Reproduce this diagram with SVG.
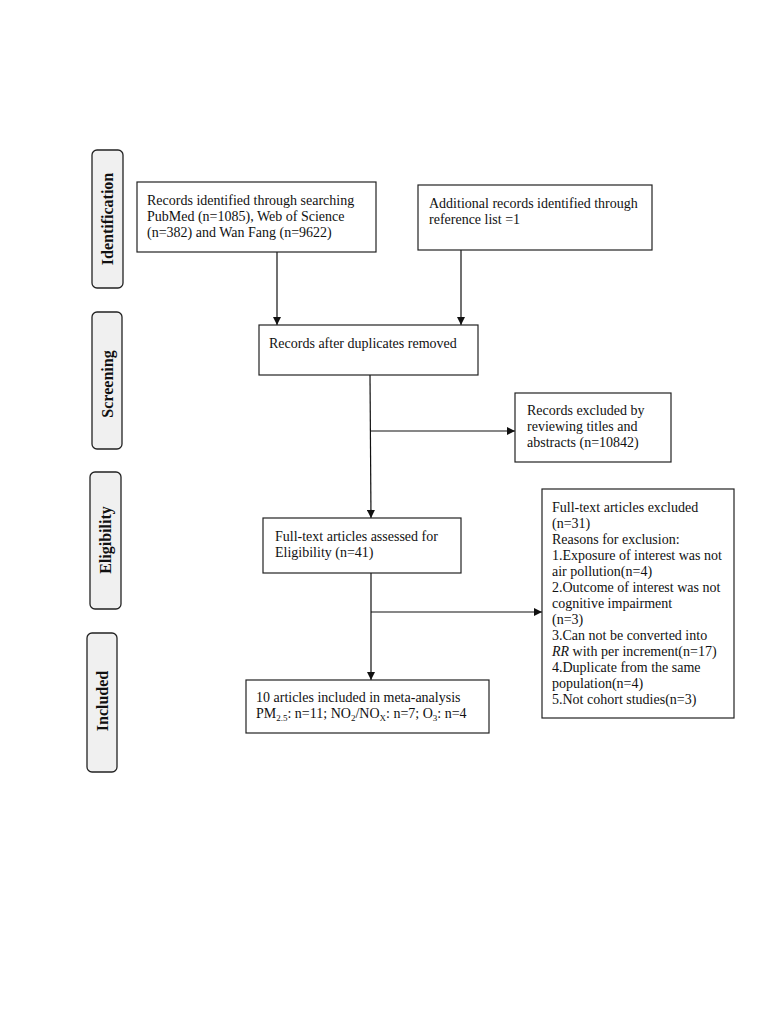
<svg xmlns="http://www.w3.org/2000/svg" width="784" height="1015" viewBox="0 0 784 1015">
<defs>
<style>
.box{fill:#fff;stroke:#222;stroke-width:1.2}
.tab{fill:#f0f0f0;stroke:#222;stroke-width:1.3}
.t{font-family:"Liberation Serif","Times New Roman",serif;font-size:14px;fill:#111}
.tl{font-family:"Liberation Serif","Times New Roman",serif;font-size:16px;font-weight:bold;fill:#111}
.ln{stroke:#111;stroke-width:1.2;fill:none}
</style>
<marker id="ah" viewBox="0 0 10 10" refX="10" refY="5" markerWidth="8" markerHeight="8" markerUnits="userSpaceOnUse" orient="auto">
<path d="M0,0 L10,5 L0,10 z" fill="#111"/>
</marker>
</defs>
<rect width="784" height="1015" fill="#fff"/>

<g id="tab-identification">
<rect class="tab" x="92" y="150" width="31" height="138" rx="5"/>
<text class="tl" transform="translate(113,219) rotate(-90)" text-anchor="middle">Identification</text>
</g>
<g id="tab-screening">
<rect class="tab" x="92" y="312" width="30" height="137" rx="5"/>
<text class="tl" transform="translate(113,384) rotate(-90)" text-anchor="middle">Screening</text>
</g>
<g id="tab-eligibility">
<rect class="tab" x="90" y="472" width="31" height="137" rx="5"/>
<text class="tl" transform="translate(111,540) rotate(-90)" text-anchor="middle">Eligibility</text>
</g>
<g id="tab-included">
<rect class="tab" x="87" y="633" width="30" height="139" rx="5"/>
<text class="tl" transform="translate(108,701) rotate(-90)" text-anchor="middle">Included</text>
</g>

<g id="connectors">
<line class="ln" x1="277" y1="252" x2="277" y2="325" marker-end="url(#ah)"/>
<line class="ln" x1="461" y1="250" x2="461" y2="325" marker-end="url(#ah)"/>
<line class="ln" x1="370" y1="375" x2="371" y2="518" marker-end="url(#ah)"/>
<line class="ln" x1="370" y1="431" x2="515" y2="431" marker-end="url(#ah)"/>
<line class="ln" x1="371" y1="573" x2="371" y2="680" marker-end="url(#ah)"/>
<line class="ln" x1="371" y1="612" x2="542" y2="612" marker-end="url(#ah)"/>
</g>

<g id="node-records-identified">
<rect class="box" x="137" y="182" width="239" height="70"/>
<text class="t" x="147" y="205">Records identified through searching</text>
<text class="t" x="147" y="221">PubMed (n=1085), Web of Science</text>
<text class="t" x="147" y="237">(n=382) and Wan Fang (n=9622)</text>
</g>
<g id="node-additional">
<rect class="box" x="418" y="185" width="234" height="65"/>
<text class="t" x="429" y="208">Additional records identified through</text>
<text class="t" x="429" y="224">reference list =1</text>
</g>
<g id="node-duplicates">
<rect class="box" x="259" y="325" width="219" height="50"/>
<text class="t" x="269" y="348">Records after duplicates removed</text>
</g>
<g id="node-excluded-titles">
<rect class="box" x="515" y="393" width="156" height="69"/>
<text class="t" x="527" y="415">Records excluded by</text>
<text class="t" x="527" y="431">reviewing titles and</text>
<text class="t" x="527" y="447">abstracts (n=10842)</text>
</g>
<g id="node-fulltext">
<rect class="box" x="263" y="518" width="198" height="55"/>
<text class="t" x="275" y="541">Full-text articles assessed for</text>
<text class="t" x="275" y="557">Eligibility (n=41)</text>
</g>
<g id="node-fulltext-excluded">
<rect class="box" x="542" y="489" width="192" height="229"/>
<text class="t" x="552" y="512">Full-text articles excluded</text>
<text class="t" x="552" y="528">(n=31)</text>
<text class="t" x="552" y="544">Reasons for exclusion:</text>
<text class="t" x="552" y="560">1.Exposure of interest was not</text>
<text class="t" x="552" y="576">air pollution(n=4)</text>
<text class="t" x="552" y="592">2.Outcome of interest was not</text>
<text class="t" x="552" y="608">cognitive impairment</text>
<text class="t" x="552" y="624">(n=3)</text>
<text class="t" x="552" y="640">3.Can not be converted into</text>
<text class="t" x="552" y="656"><tspan font-style="italic">RR</tspan> with per increment(n=17)</text>
<text class="t" x="552" y="672">4.Duplicate from the same</text>
<text class="t" x="552" y="688">population(n=4)</text>
<text class="t" x="552" y="704">5.Not cohort studies(n=3)</text>
</g>
<g id="node-included">
<rect class="box" x="246" y="680" width="243" height="53"/>
<text class="t" x="256" y="702">10 articles included in meta-analysis</text>
<text class="t" x="256" y="718">PM<tspan font-size="9" dy="3">2.5</tspan><tspan dy="-3">: n=11; NO</tspan><tspan font-size="9" dy="3">2</tspan><tspan dy="-3">/NO</tspan><tspan font-size="9" dy="3">X</tspan><tspan dy="-3">: n=7; O</tspan><tspan font-size="9" dy="3">3</tspan><tspan dy="-3">: n=4</tspan></text>
</g>
</svg>
